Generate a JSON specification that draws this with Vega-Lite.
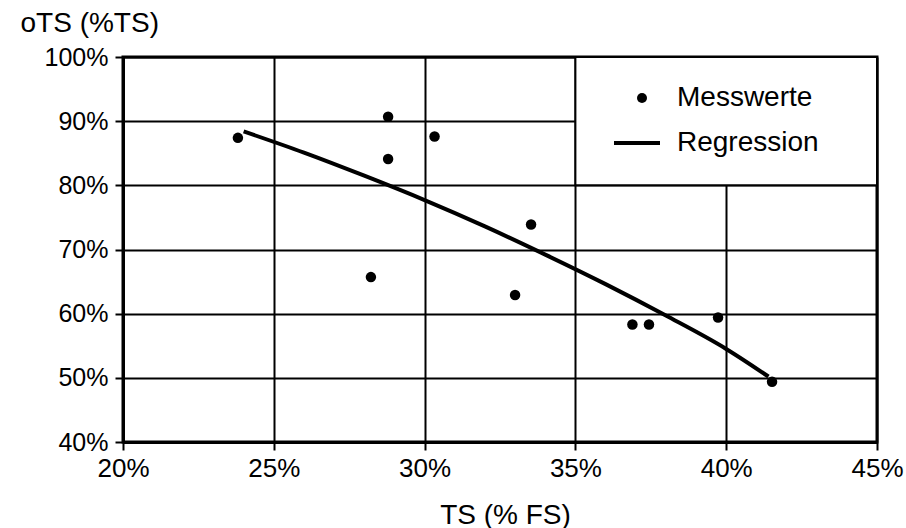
{
  "$schema": "https://vega.github.io/schema/vega-lite/v6.json",
  "width": 754,
  "height": 385,
  "autosize": "none",
  "padding": {"left": 123, "top": 57, "right": 29, "bottom": 86},
  "background": "white",
  "config": {
    "font": "Liberation Sans",
    "view": {"stroke": "black", "strokeWidth": 3},
    "axis": {
      "domainColor": "black",
      "domainWidth": 3,
      "gridColor": "black",
      "gridWidth": 2,
      "gridOpacity": 1,
      "tickColor": "black",
      "tickWidth": 2,
      "tickSize": 8,
      "labelColor": "black",
      "titleColor": "black",
      "titleFontWeight": "normal",
      "labelFont": "Liberation Sans",
      "titleFont": "Liberation Sans"
    }
  },
  "datasets": {
    "box": [{"x1": 0.35, "x2": 0.45, "y1": 0.8, "y2": 1.0}],
    "punkte": [
      {"ts": 0.2381, "ots": 0.874, "art": "Messwerte"},
      {"ts": 0.2879, "ots": 0.907, "art": "Messwerte"},
      {"ts": 0.2879, "ots": 0.841, "art": "Messwerte"},
      {"ts": 0.3033, "ots": 0.876, "art": "Messwerte"},
      {"ts": 0.2822, "ots": 0.657, "art": "Messwerte"},
      {"ts": 0.3353, "ots": 0.739, "art": "Messwerte"},
      {"ts": 0.3300, "ots": 0.629, "art": "Messwerte"},
      {"ts": 0.3689, "ots": 0.583, "art": "Messwerte"},
      {"ts": 0.3744, "ots": 0.583, "art": "Messwerte"},
      {"ts": 0.3973, "ots": 0.594, "art": "Messwerte"},
      {"ts": 0.4152, "ots": 0.494, "art": "Messwerte"}
    ],
    "kurve": [
      {"ts": 0.240, "ots": 0.884, "typ": "Regression"},
      {"ts": 0.260, "ots": 0.851, "typ": "Regression"},
      {"ts": 0.280, "ots": 0.815, "typ": "Regression"},
      {"ts": 0.300, "ots": 0.777, "typ": "Regression"},
      {"ts": 0.320, "ots": 0.736, "typ": "Regression"},
      {"ts": 0.340, "ots": 0.692, "typ": "Regression"},
      {"ts": 0.360, "ots": 0.646, "typ": "Regression"},
      {"ts": 0.380, "ots": 0.597, "typ": "Regression"},
      {"ts": 0.400, "ots": 0.545, "typ": "Regression"},
      {"ts": 0.414, "ots": 0.502, "typ": "Regression"}
    ]
  },
  "layer": [
    {
      "data": {"name": "box"},
      "mark": {"type": "rect", "fill": "white", "stroke": "black", "strokeWidth": 2},
      "encoding": {
        "x": {
          "field": "x1", "type": "quantitative",
          "scale": {"domain": [0.2, 0.45], "nice": false, "zero": false},
          "axis": {
            "values": [0.2, 0.25, 0.3, 0.35, 0.4, 0.45],
            "format": ".0%",
            "labelFontSize": 26,
            "labelPadding": 5,
            "labelFlush": false,
            "labelOverlap": false,
            "title": "TS (% FS)",
            "titleFontSize": 28,
            "titleX": 382,
            "titleY": 81,
            "titleAlign": "center",
            "titleBaseline": "alphabetic",
            "grid": true
          }
        },
        "x2": {"field": "x2"},
        "y": {
          "field": "y1", "type": "quantitative",
          "scale": {"domain": [0.4, 1.0], "nice": false, "zero": false},
          "axis": {
            "values": [0.4, 0.5, 0.6, 0.7, 0.8, 0.9, 1.0],
            "format": ".0%",
            "labelFontSize": 25,
            "labelPadding": 7,
            "labelFlush": false,
            "labelOverlap": false,
            "title": "oTS (%TS)",
            "titleFontSize": 28,
            "titleAngle": 0,
            "titleX": -103,
            "titleY": -26,
            "titleAlign": "left",
            "titleBaseline": "alphabetic",
            "grid": true
          }
        },
        "y2": {"field": "y2"}
      }
    },
    {
      "data": {"name": "kurve"},
      "mark": {"type": "line", "strokeWidth": 4, "interpolate": "monotone"},
      "encoding": {
        "x": {"field": "ts", "type": "quantitative"},
        "y": {"field": "ots", "type": "quantitative"},
        "color": {
          "field": "typ", "type": "nominal",
          "scale": {"domain": ["Regression"], "range": ["black"]},
          "legend": {
            "title": null,
            "orient": "none",
            "legendX": 489,
            "legendY": 61,
            "padding": 0,
            "symbolType": "stroke",
            "symbolSize": 2116,
            "symbolStrokeWidth": 4,
            "symbolStrokeColor": "black",
            "labelFontSize": 28,
            "labelColor": "black",
            "labelOffset": 15,
            "labelLimit": 400
          }
        }
      }
    },
    {
      "data": {"name": "punkte"},
      "mark": {"type": "point", "filled": true, "color": "black", "size": 110, "opacity": 1},
      "encoding": {
        "x": {"field": "ts", "type": "quantitative"},
        "y": {"field": "ots", "type": "quantitative"},
        "shape": {
          "field": "art", "type": "nominal",
          "scale": {"domain": ["Messwerte"], "range": ["circle"]},
          "legend": {
            "title": null,
            "orient": "none",
            "legendX": 505,
            "legendY": 27,
            "padding": 0,
            "symbolSize": 100,
            "symbolFillColor": "black",
            "symbolStrokeColor": "black",
            "symbolOpacity": 1,
            "labelFontSize": 28,
            "labelColor": "black",
            "labelOffset": 21,
            "labelLimit": 400
          }
        }
      }
    }
  ]
}
